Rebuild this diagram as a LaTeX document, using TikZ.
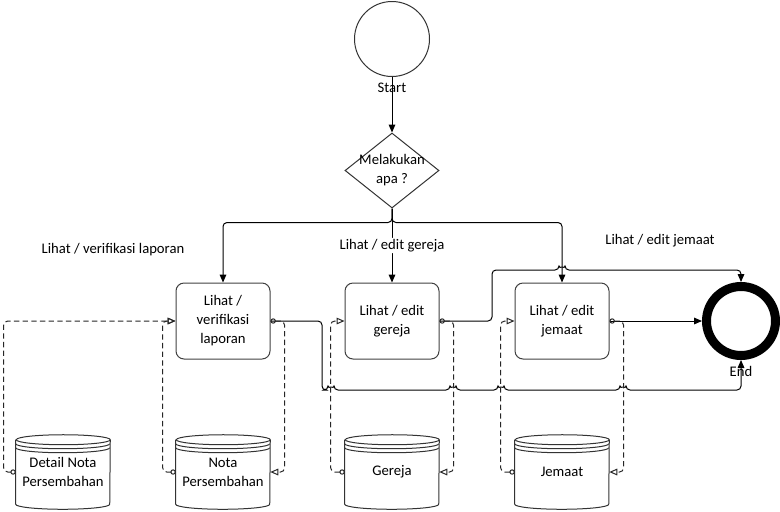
\documentclass[tikz,border=0pt]{standalone}
\usepackage{fontspec}
\setmainfont{Carlito}
\usetikzlibrary{arrows.meta,shapes.geometric}

\tikzset{
  task/.style={draw=black!75, line width=0.75pt, rounded corners=6pt, minimum width=70.5pt, minimum height=57pt, inner sep=2pt, align=center},
  startev/.style={circle, draw=black!80, line width=0.75pt, minimum size=56.25pt, inner sep=0pt},
  endev/.style={circle, draw=black, line width=6.75pt, minimum size=51.75pt, inner sep=0pt},
  choice/.style={diamond, draw=black!80, line width=0.75pt, minimum width=70.5pt, minimum height=56.25pt, inner sep=0pt},
  store/.style={minimum width=70.5pt, minimum height=55.5pt, inner sep=0pt, align=center},
  flow/.style={draw=black, line width=0.75pt, -{Triangle[length=6pt,width=5pt]}, rounded corners=3pt},
  assoc/.style={draw=black!85, line width=0.75pt, dash pattern=on 4pt off 2.5pt, {Circle[open,length=4pt]}-{Triangle[open,length=6pt,width=5pt]}, rounded corners=3pt},
  lbl/.style={inner sep=1pt},
}

\newcommand{\drawstore}[1]{%
  \draw[black!80, line width=0.75pt] ([yshift=-3.75pt]#1.north west) -- ([yshift=3.75pt]#1.south west)
    arc[start angle=180, end angle=360, x radius=35.25pt, y radius=3.75pt]
    -- ([yshift=-3.75pt]#1.north east)
    arc[start angle=0, end angle=360, x radius=35.25pt, y radius=3.75pt];
  \draw[black!80, line width=0.75pt] ([yshift=-6.75pt]#1.north west)
    arc[start angle=180, end angle=360, x radius=35.25pt, y radius=3.75pt];
  \draw[black!80, line width=0.75pt] ([yshift=-9.75pt]#1.north west)
    arc[start angle=180, end angle=360, x radius=35.25pt, y radius=3.75pt];
}

\begin{document}
\begin{tikzpicture}[x=0.75pt, y=-0.75pt, font=\fontsize{11}{14.3}\selectfont]
\useasboundingbox (0,0) rectangle (780,511);

\node[startev] (start) at (392,39) {};
\node[lbl] (startlbl) at (392,88) {Start};
\node[choice, label={[align=center]center:Melakukan\\apa ?}] (choice) at (392,170.5) {};

\node[task] (verif) at (223,321) {Lihat /\\verifikasi\\laporan};
\node[task] (gereja) at (392,321) {Lihat / edit\\gereja};
\node[task] (jemaat) at (562,321) {Lihat / edit\\jemaat};

\node[endev] (end) at (741,321) {};
\node[lbl] (endlbl) at (741,371) {End};

\node[store] (dbdetail) at (63,472) {Detail Nota\\Persembahan};
\node[store] (dbnota) at (223,472) {Nota\\Persembahan};
\node[store] (dbgereja) at (392,472) {Gereja};
\node[store] (dbjemaat) at (562,472) {Jemaat};
\drawstore{dbdetail}
\drawstore{dbnota}
\drawstore{dbgereja}
\drawstore{dbjemaat}

\node[lbl] (lblverif) at (113,250) {Lihat / verifikasi laporan};
\node[lbl] (lbljemaat) at (660,241) {Lihat / edit jemaat};

\draw[flow] (start) -- (choice);
\draw[flow] (choice.south) -- ++(0,14) -| (verif.north);
\draw[flow] (choice.south) -- ++(0,14) -| (jemaat.north);
\draw[flow] (choice) -- node[lbl, fill=white] (lblgereja) {Lihat / edit gereja} (gereja);

\draw[flow] (verif.east) -| (322,390) -- (328,390) arc[start angle=180, end angle=0, radius=2.25pt]
  -- (450,390) arc[start angle=180, end angle=0, radius=2.25pt]
  -- (498,390) arc[start angle=180, end angle=0, radius=2.25pt]
  -- (620,390) arc[start angle=180, end angle=0, radius=2.25pt] -| (end.south);
\draw[flow] (gereja.east) -| (492,270) -- (559,270) arc[start angle=180, end angle=0, radius=2.25pt] -| (end.north);
\draw[flow] (jemaat.east) -- (end.west);

\draw[assoc] (dbdetail.west) -- ++(-12,0) |- (verif.west);
\draw[assoc] (dbnota.west) -- ++(-13,0) |- (verif.west);
\draw[assoc] (verif.east) -- ++(14,0) |- (dbnota.east);
\draw[assoc] (dbgereja.west) -- ++(-14,0) |- (gereja.west);
\draw[assoc] (gereja.east) -- ++(14,0) |- (dbgereja.east);
\draw[assoc] (dbjemaat.west) -- ++(-14,0) |- (jemaat.west);
\draw[assoc] (jemaat.east) -- ++(14,0) |- (dbjemaat.east);
\end{tikzpicture}
\end{document}
